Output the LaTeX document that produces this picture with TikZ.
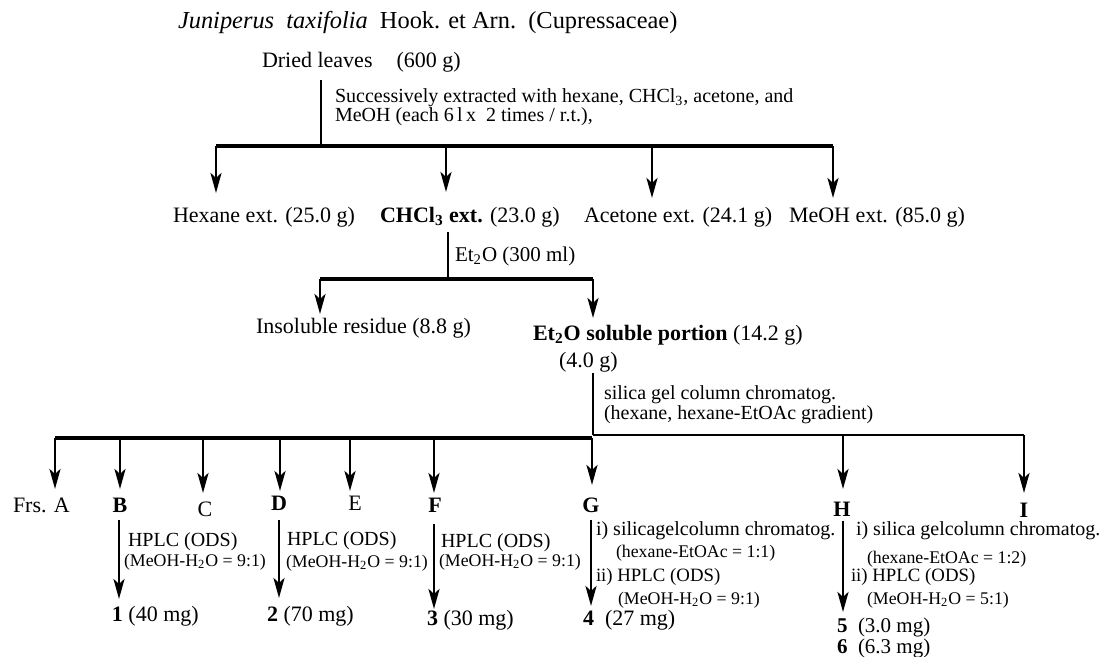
\documentclass[tikz,border=0pt]{standalone}
\usepackage{fontspec}
\setmainfont{Liberation Serif}
\usetikzlibrary{arrows.meta}
\begin{document}
\begin{tikzpicture}[x=0.5pt,y=-0.5pt,
  lbl/.style={inner sep=0pt, outer sep=0pt, anchor=west},
  ctr/.style={inner sep=0pt, outer sep=0pt, anchor=center},
  fT/.style={font=\fontsize{12.2}{14}\selectfont},
  fL/.style={font=\fontsize{11}{13}\selectfont},
  fK/.style={font=\fontsize{10.5}{12}\selectfont},
  fM/.style={font=\fontsize{10}{12}\selectfont},
  fN/.style={font=\fontsize{9.4}{11}\selectfont},
  fS/.style={font=\fontsize{8.9}{10}\selectfont},
  bar/.style={line width=1.8pt},
  thinbar/.style={line width=0.9pt},
  thinln/.style={line width=0.8pt},
  arr/.style={line width=1.4pt, -{Stealth[length=10pt,width=5.5pt,inset=2.5pt]}},
]
\useasboundingbox (0,0) rectangle (1099,657);

% ---- top ----
\node[lbl,fT] (title) at (178,23) {\textit{Juniperus\ \ taxifolia}\ \ Hook. et Arn.\ \ (Cupressaceae)};
\node[lbl,fL] (dried) at (262,62) {Dried leaves\hspace{12pt}(600 g)};
\node[lbl,fM] (succA) at (335,98) {Successively extracted with hexane, CHCl\textsubscript{3}, acetone, and};
\node[lbl,fM] (succB) at (335,117) {MeOH (each 6\,l\,x\ \ 2 times / r.t.),};

\coordinate (dTop) at (321,80);
\coordinate (j1) at (321,146);
\draw[thinln] (dTop) -- (j1);

\coordinate (b1a) at (216,146);
\coordinate (b1b) at (446,146);
\coordinate (b1c) at (652,146);
\coordinate (b1d) at (833,146);
\draw[bar] (b1a) -- (b1d);

\coordinate (t1a) at (216,193);
\coordinate (t1b) at (446,192);
\coordinate (t1c) at (652,198);
\coordinate (t1d) at (833,198);
\draw[arr] (b1a) -- (t1a);
\draw[arr] (b1b) -- (t1b);
\draw[arr] (b1c) -- (t1c);
\draw[arr] (b1d) -- (t1d);

\node[lbl,fL] (hex)  at (173,217) {Hexane ext. (25.0 g)};
\node[lbl,fL] (chcl) at (380,217) {\textbf{CHCl\textsubscript{3} ext.} (23.0 g)};
\node[lbl,fL] (acet) at (584,217) {Acetone ext. (24.1 g)};
\node[lbl,fL] (meoh) at (789,217) {MeOH ext. (85.0 g)};

% ---- Et2O partition ----
\coordinate (c0) at (448,232);
\coordinate (j2) at (448,279);
\draw[thinln] (c0) -- (j2);
\node[lbl,fK] (et2o) at (455,256) {Et\textsubscript{2}O (300 ml)};

\coordinate (b2a) at (320,279);
\coordinate (b2b) at (593,279);
\draw[bar] (b2a) -- (b2b);
\coordinate (t2a) at (320,314);
\coordinate (t2b) at (593,318);
\draw[arr] (b2a) -- (t2a);
\draw[arr] (b2b) -- (t2b);

\node[lbl,fL] (insol) at (256,328) {Insoluble residue (8.8 g)};
\node[lbl,fL] (solub) at (533,335) {\textbf{Et\textsubscript{2}O soluble portion} (14.2 g)};
\node[lbl,fL] (fourg) at (559,362) {(4.0 g)};

\coordinate (s0) at (593,373);
\coordinate (j3) at (593,435);
\draw[thinln] (s0) -- (j3);
\node[lbl,fM] (sil1) at (604,395) {silica gel column chromatog.};
\node[lbl,fM] (sil2) at (604,415) {(hexane, hexane-EtOAc gradient)};

% ---- fraction bar ----
\coordinate (b3a) at (55,438);
\coordinate (b3g) at (592,438);
\coordinate (b3i) at (1024,435);
\draw[bar] (b3a) -- (b3g);
\draw[thinbar] (j3) -- (b3i);

\foreach \n/\x/\yb/\yt in {A/55/438/489, B/120/438/489, C/203/438/493, D/280/438/491,
    E/350/438/491, F/434/438/493, G/592/438/485, H/843/435/489, I/1024/435/493} {
  \coordinate (fb\n) at (\x,\yb);
  \coordinate (ft\n) at (\x,\yt);
  \draw[arr] (fb\n) -- (ft\n);
}

\node[lbl,fL] (frA) at (13,505) {Frs. A};
\node[ctr,fL] (frB) at (120,505) {\textbf{B}};
\node[ctr,fL] (frC) at (205,509) {C};
\node[ctr,fL] (frD) at (279,503) {\textbf{D}};
\node[ctr,fL] (frE) at (355,503) {E};
\node[ctr,fL] (frF) at (435,505) {\textbf{F}};
\node[ctr,fL] (frG) at (591,505) {\textbf{G}};
\node[ctr,fL] (frH) at (842,509) {\textbf{H}};
\node[ctr,fL] (frI) at (1024,510) {\textbf{I}};

% ---- second-stage arrows ----
\foreach \n/\x/\ya/\yb in {B/119/520/599, D/279/520/598, F/434/524/609, G/591/520/606, H/843/521/612} {
  \coordinate (sa\n) at (\x,\ya);
  \coordinate (sb\n) at (\x,\yb);
  \draw[arr] (sa\n) -- (sb\n);
}

% B
\node[lbl,fM] (hB1) at (128,542) {HPLC (ODS)};
\node[lbl,fS] (hB2) at (124,562) {(MeOH-H\textsubscript{2}O = 9:1)};
\node[lbl,fL] (cp1) at (112,616) {\textbf{1} (40 mg)};
% D
\node[lbl,fM] (hD1) at (287,541) {HPLC (ODS)};
\node[lbl,fS] (hD2) at (286,563) {(MeOH-H\textsubscript{2}O = 9:1)};
\node[lbl,fL] (cp2) at (267,616) {\textbf{2} (70 mg)};
% F
\node[lbl,fM] (hF1) at (441,543) {HPLC (ODS)};
\node[lbl,fS] (hF2) at (439,562) {(MeOH-H\textsubscript{2}O = 9:1)};
\node[lbl,fL] (cp3) at (427,620) {\textbf{3} (30 mg)};
% G
\node[lbl,fM] (hG1) at (596,531) {i) silicagelcolumn chromatog.};
\node[lbl,fS] (hG2) at (616,553) {(hexane-EtOAc = 1:1)};
\node[lbl,fN] (hG3) at (596,577) {ii) HPLC (ODS)};
\node[lbl,fS] (hG4) at (618,600) {(MeOH-H\textsubscript{2}O = 9:1)};
\node[lbl,fL] (cp4) at (583,620) {\textbf{4}\ \ (27 mg)};
% H
\node[lbl,fM] (hH1) at (856,531) {i) silica gelcolumn chromatog.};
\node[lbl,fS] (hH2) at (867,559) {(hexane-EtOAc = 1:2)};
\node[lbl,fN] (hH3) at (851,577) {ii) HPLC (ODS)};
\node[lbl,fS] (hH4) at (867,600) {(MeOH-H\textsubscript{2}O = 5:1)};
\node[lbl,fK] (cp5) at (837,627) {\textbf{5}\ \ (3.0 mg)};
\node[lbl,fK] (cp6) at (837,648) {\textbf{6}\ \ (6.3 mg)};
\end{tikzpicture}
\end{document}
